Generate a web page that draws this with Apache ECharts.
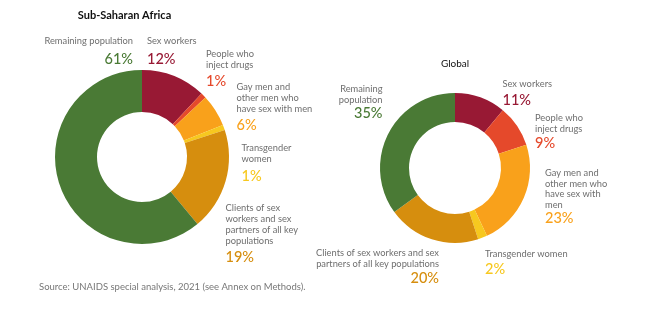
<!DOCTYPE html>
<html><head><meta charset="utf-8">
<script src="https://cdn.jsdelivr.net/npm/echarts@6/dist/echarts.min.js"></script>
<style>html,body{margin:0;padding:0;background:#fff}#c{width:655px;height:326px}</style>
</head><body><div id="c"></div>
<script>
// ---- data ----
const categories = ['Sex workers','People who inject drugs','Gay men and other men who have sex with men','Transgender women','Clients of sex workers and sex partners of all key populations','Remaining population'];
const ssaValues = [12, 1, 6, 1, 19, 61];
const globalValues = [11, 9, 23, 2, 20, 35];
const ssaTitle = 'Sub-Saharan Africa';
const globalTitle = 'Global';
const ssaLabelLines = [['Sex workers'],['People who','inject drugs'],['Gay men and','other men who','have sex with men'],['Transgender','women'],['Clients of sex','workers and sex','partners of all key','populations'],['Remaining population']];
const globalLabelLines = [['Sex workers'],['People who','inject drugs'],['Gay men and','other men who','have sex with','men'],['Transgender women'],['Clients of sex workers and sex','partners of all key populations'],['Remaining','population']];
const sourceText = 'Source: UNAIDS special analysis, 2021 (see Annex on Methods).';

// ---- style / layout ----
const colors = ['#981934','#E5492B','#F9A11B','#F7C81F','#D68E0E','#4A7A35'];
const labelGray = '#6e6e6e';
const FONT = 'Lato, "Open Sans", sans-serif';
const LH = 10.8;
// [x, first line center y, align, pct center y]
const ssaPos = [
  [147, 41, 'left', 59],
  [206, 53.7, 'left', 81],
  [236.5, 87, 'left', 125.5],
  [241.5, 147.7, 'left', 176],
  [225.5, 208.3, 'left', 257.5],
  [133, 41, 'right', 59]
];
const globalPos = [
  [502.5, 84.3, 'left', 100],
  [535, 117.7, 'left', 143.3],
  [545, 172.7, 'left', 218.3],
  [485, 254, 'left', 269],
  [439, 252.7, 'right', 278.3],
  [382.5, 88.7, 'right', 113.3]
];

function labels(lines, values, pos) {
  const out = [];
  lines.forEach((ls, i) => {
    const p = pos[i];
    out.push({type:'text', x:p[0], y:p[1]-LH/2, silent:true,
      style:{text:ls.join('\n'), fill:labelGray, font:'9.3px '+FONT, lineHeight:LH, textAlign:p[2], textVerticalAlign:'top'}});
    out.push({type:'text', x:p[0], y:p[3], silent:true,
      style:{text:values[i]+'%', fill:colors[i], font:'500 14.5px '+FONT, textAlign:p[2], textVerticalAlign:'middle'}});
  });
  return out;
}

const chart = echarts.init(document.getElementById('c'), null, {renderer:'canvas'});
const mk = (vals) => vals.map((v,i)=>({name:categories[i], value:v, itemStyle:{color:colors[i]}}));
chart.setOption({
  animation:false,
  series:[
    {type:'pie', center:[142,157], radius:[45,87], startAngle:90, clockwise:true, label:{show:false}, labelLine:{show:false}, silent:true, data:mk(ssaValues)},
    {type:'pie', center:[455,168], radius:[46,75], startAngle:90, clockwise:true, label:{show:false}, labelLine:{show:false}, silent:true, data:mk(globalValues)}
  ],
  graphic:[
    {type:'text', x:124.5, y:15, silent:true, style:{text:ssaTitle, fill:'#111', font:'bold 11px '+FONT, textAlign:'center', textVerticalAlign:'middle'}},
    {type:'text', x:455, y:64, silent:true, style:{text:globalTitle, fill:'#111', font:'10px '+FONT, textAlign:'center', textVerticalAlign:'middle'}},
    {type:'text', x:39, y:287, silent:true, style:{text:sourceText, fill:'#777', font:'9.5px '+FONT, textAlign:'left', textVerticalAlign:'middle'}}
  ].concat(labels(ssaLabelLines, ssaValues, ssaPos)).concat(labels(globalLabelLines, globalValues, globalPos))
});
</script></body></html>
